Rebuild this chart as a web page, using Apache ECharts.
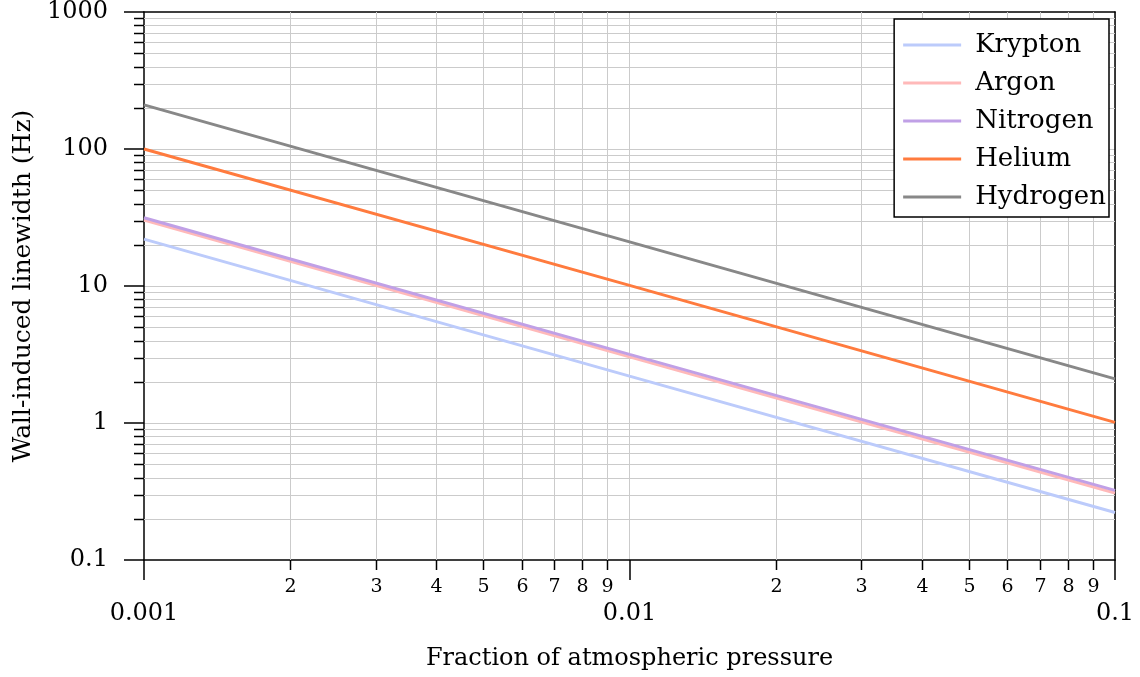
<!DOCTYPE html>
<html>
<head>
<meta charset="utf-8">
<script src="https://cdn.jsdelivr.net/npm/echarts@6/dist/echarts.min.js"></script>
<style>
html,body{margin:0;padding:0;background:#fff;}
#chart{width:1140px;height:677px;}
</style>
</head>
<body>
<div id="chart"></div>
<script>
// ---- data ----
const xMin = 0.001, xMax = 0.1, yMin = 0.1, yMax = 1000;
const pressure = [0.001, 0.01, 0.1];
const krypton  = [22, 2.2, 0.222];
const argon    = [30.3, 3.04, 0.308];
const nitrogen = [31.5, 3.17, 0.322];
const helium   = [100, 10.1, 1.01];
const hydrogen = [210, 21, 2.1];
const seriesNames = ['Krypton', 'Argon', 'Nitrogen', 'Helium', 'Hydrogen'];
const xMajorLabels = ['0.001', '0.01', '0.1'];
const yMajorLabels = ['0.1', '1', '10', '100', '1000'];
const xMinorTicks = [0.002, 0.003, 0.004, 0.005, 0.006, 0.007, 0.008, 0.009,
                     0.02, 0.03, 0.04, 0.05, 0.06, 0.07, 0.08, 0.09];
const xMinorLabels = ['2','3','4','5','6','7','8','9','2','3','4','5','6','7','8','9'];
const yMinorTicks = [0.2,0.3,0.4,0.5,0.6,0.7,0.8,0.9, 2,3,4,5,6,7,8,9,
                     20,30,40,50,60,70,80,90, 200,300,400,500,600,700,800,900];

// ---- styles ----
const FONT = '"DejaVu Serif", serif';
const colors = ['#bccbfb', '#ffb9b9', '#c0a0e6', '#ff7b3e', '#888888'];
const gridColor = '#cbcbcb';

const chart = echarts.init(document.getElementById('chart'), null, {renderer: 'canvas'});

function crisp(v) { return Math.round(v) + 0.5; }

const lineData = [krypton, argon, nitrogen, helium, hydrogen];
const lineSeries = seriesNames.map((name, k) => ({
  name: name,
  type: 'line',
  z: 3,
  showSymbol: false,
  symbol: 'none',
  data: pressure.map((p, i) => [p, lineData[k][i]]),
  lineStyle: {color: colors[k], width: 3},
  itemStyle: {color: colors[k]},
  emphasis: {disabled: true}
}));

const xMinorSeries = {
  type: 'custom', z: 1, silent: true, clip: false,
  data: xMinorTicks.map((v, i) => [v, yMin, i]),
  renderItem: function (params, api) {
    const x = api.value(0), i = api.value(2);
    const p0 = api.coord([x, yMin]), p1 = api.coord([x, yMax]);
    const cx = crisp(p0[0]);
    return {type: 'group', children: [
      {type: 'line', shape: {x1: cx, y1: p0[1], x2: cx, y2: p1[1]}, style: {stroke: gridColor, lineWidth: 1}},
      {type: 'line', shape: {x1: cx, y1: p0[1], x2: cx, y2: p0[1] + 10}, style: {stroke: '#000', lineWidth: 1.5}},
      {type: 'text', style: {text: xMinorLabels[i], x: cx, y: p0[1] + 27, align: 'center', verticalAlign: 'middle',
        fontFamily: 'DejaVu Serif', fontSize: 19, fill: '#000'}}
    ]};
  }
};

const yMinorSeries = {
  type: 'custom', z: 1, silent: true, clip: false,
  data: yMinorTicks.map((v) => [xMin, v]),
  renderItem: function (params, api) {
    const y = api.value(1);
    const p0 = api.coord([xMin, y]), p1 = api.coord([xMax, y]);
    const cy = crisp(p0[1]);
    return {type: 'group', children: [
      {type: 'line', shape: {x1: p0[0], y1: cy, x2: p1[0], y2: cy}, style: {stroke: gridColor, lineWidth: 1}},
      {type: 'line', shape: {x1: p0[0] - 10, y1: cy, x2: p0[0], y2: cy}, style: {stroke: '#000', lineWidth: 1.5}}
    ]};
  }
};

function logLabel(labels, base) {
  return function (v) {
    const idx = Math.round(Math.log10(v)) - base;
    return labels[idx] !== undefined ? labels[idx] : '';
  };
}

const option = {
  backgroundColor: '#ffffff',
  animation: false,
  grid: {left: 144, right: 25, top: 12, bottom: 117, containLabel: false},
  legend: {
    orient: 'vertical',
    right: 31, top: 19,
    backgroundColor: '#ffffff',
    borderColor: '#000', borderWidth: 1.5, borderRadius: 0,
    padding: [13, 3, 7, 9],
    itemGap: 12,
    itemWidth: 58, itemHeight: 3,
    icon: 'rect',
    selectedMode: false,
    data: seriesNames,
    textStyle: {fontFamily: FONT, fontSize: 26, color: '#000', lineHeight: 26, padding: [0, 0, 0, 9]}
  },
  xAxis: [{
    type: 'log', logBase: 10, min: xMin, max: xMax,
    name: 'Fraction of atmospheric pressure',
    nameLocation: 'middle', nameGap: 87,
    nameTextStyle: {fontFamily: FONT, fontSize: 24, color: '#000'},
    axisLine: {show: true, onZero: false, lineStyle: {color: '#000', width: 1.5}},
    axisTick: {show: true, inside: false, length: 20, lineStyle: {color: '#000', width: 1.5}},
    minorTick: {show: false},
    axisLabel: {margin: 42, fontFamily: FONT, fontSize: 24, color: '#000', formatter: logLabel(xMajorLabels, -3),
      showMinLabel: true, showMaxLabel: true},
    splitLine: {show: true, showMinLine: false, showMaxLine: false, lineStyle: {color: gridColor, width: 1}}
  }, {
    type: 'log', logBase: 10, min: xMin, max: xMax, position: 'top',
    axisLine: {show: true, onZero: false, lineStyle: {color: '#000', width: 1.5}},
    axisTick: {show: false}, axisLabel: {show: false}, splitLine: {show: false}
  }],
  yAxis: [{
    type: 'log', logBase: 10, min: yMin, max: yMax,
    name: 'Wall-induced linewidth (Hz)',
    nameLocation: 'middle', nameGap: 95, nameRotate: 90,
    nameTextStyle: {fontFamily: FONT, fontSize: 25, color: '#000'},
    axisLine: {show: true, onZero: false, lineStyle: {color: '#000', width: 1.5}},
    axisTick: {show: true, inside: false, length: 20, lineStyle: {color: '#000', width: 1.5}},
    axisLabel: {margin: 36, fontFamily: FONT, fontSize: 24, color: '#000', formatter: logLabel(yMajorLabels, -1),
      padding: [4, 0, 0, 0], showMinLabel: true, showMaxLabel: true},
    splitLine: {show: true, showMinLine: false, showMaxLine: false, lineStyle: {color: gridColor, width: 1}}
  }, {
    type: 'log', logBase: 10, min: yMin, max: yMax, position: 'right',
    axisLine: {show: true, onZero: false, lineStyle: {color: '#000', width: 1.5}},
    axisTick: {show: false}, axisLabel: {show: false}, splitLine: {show: false}
  }],
  series: [xMinorSeries, yMinorSeries].concat(lineSeries)
};

chart.setOption(option);
</script>
</body>
</html>
